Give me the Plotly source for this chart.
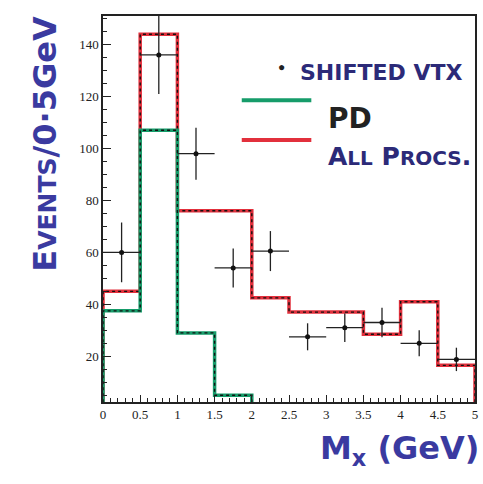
import plotly.graph_objects as go

# ---- data ----
bin_edges = [0, 0.5, 1.0, 1.5, 2.0, 2.5, 3.0, 3.5, 4.0, 4.5, 5.0]
all_procs = [45, 144, 76, 76, 42.5, 37, 37, 28.5, 41, 16.5]
pd_edges = [0, 0.5, 1.0, 1.5, 2.0]
pd_vals = [37.5, 107, 29, 5]
pts_x = [0.25, 0.75, 1.25, 1.75, 2.25, 2.75, 3.25, 3.75, 4.25, 4.75]
pts_y = [60, 136, 98, 54, 60.5, 27.5, 31, 33, 25, 18.8]
pts_err = [11.5, 15, 10, 7.5, 7.7, 5.2, 5.5, 5.7, 5, 4.5]
pts_xerr = [0.25] * 10
x_ticks = [0, 0.5, 1, 1.5, 2, 2.5, 3, 3.5, 4, 4.5, 5]
x_ticklabels = ["0", "0.5", "1", "1.5", "2", "2.5", "3", "3.5", "4", "4.5", "5"]
y_ticks = [20, 40, 60, 80, 100, 120, 140]


def step_xy(edges, vals):
    xs = [edges[0]] + list(edges) + [edges[-1]]
    ys = [0] + list(vals) + [vals[-1], 0]
    return xs, ys


RED = "#e2303c"
GREEN = "#169c6a"
INK = "#2c2a78"
HAND = "DejaVu Sans"

fig = go.Figure()

for edges, vals, col in [(bin_edges, all_procs, RED), (pd_edges, pd_vals, GREEN)]:
    xs, ys = step_xy(edges, vals)
    fig.add_trace(go.Scatter(x=xs, y=ys, mode="lines", line=dict(color=col, width=3.5, shape="hv"),
                             showlegend=False, hoverinfo="skip"))
    fig.add_trace(go.Scatter(x=xs, y=ys, mode="lines",
                             line=dict(color="#111111", width=1.4, shape="hv", dash="dot"),
                             showlegend=False, hoverinfo="skip"))

fig.add_trace(go.Scatter(
    x=pts_x, y=pts_y, mode="markers",
    marker=dict(color="#111111", size=5),
    error_y=dict(type="data", array=pts_err, color="#222222", thickness=1.3, width=0),
    error_x=dict(type="data", array=pts_xerr, color="#222222", thickness=1.3, width=0),
    showlegend=False, cliponaxis=True,
))

fig.update_layout(
    width=483, height=484,
    margin=dict(l=103, r=5, t=16, b=82),
    paper_bgcolor="white", plot_bgcolor="white",
    font=dict(family="Liberation Serif", size=13, color="#222222"),
    xaxis=dict(range=[0, 5], tickvals=x_ticks, ticktext=x_ticklabels,
               ticks="inside", ticklen=7, tickcolor="#222", tickwidth=1.3,
               minor=dict(ticks="inside", ticklen=4, dtick=0.1, tickcolor="#222", tickwidth=1),
               showline=True, linecolor="#222", linewidth=1.5, mirror=True,
               showgrid=False, zeroline=False),
    yaxis=dict(range=[2.4, 151], tickvals=y_ticks,
               ticks="inside", ticklen=8, tickcolor="#222", tickwidth=1.3,
               minor=dict(ticks="inside", ticklen=4, dtick=5, tickcolor="#222", tickwidth=1),
               showline=True, linecolor="#222", linewidth=1.5, mirror=True,
               showgrid=False, zeroline=False),
)

# legend (hand-drawn style)
fig.add_shape(type="line", xref="paper", yref="paper", x0=0.373, x1=0.56, y0=0.782, y1=0.782,
              line=dict(color=GREEN, width=4))
fig.add_shape(type="line", xref="paper", yref="paper", x0=0.373, x1=0.56, y0=0.679, y1=0.679,
              line=dict(color=RED, width=4))
fig.add_annotation(xref="paper", yref="paper", x=0.48, y=0.891, xanchor="center", text="●",
                   showarrow=False, font=dict(size=12, color="#222"))
fig.add_annotation(xref="paper", yref="paper", x=0.525, y=0.891, xanchor="left", text="<b>SHIFTED VTX</b>",
                   showarrow=False, font=dict(family=HAND, size=22, color=INK))
fig.add_annotation(xref="paper", yref="paper", x=0.6, y=0.782, xanchor="left", text="<b>PD</b>",
                   showarrow=False, font=dict(family=HAND, size=28, color="#222"))
fig.add_annotation(xref="paper", yref="paper", x=0.6, y=0.679, xanchor="left",
                   text="<b>A<span style='font-size:20px'>LL</span> P<span style='font-size:20px'>ROCS</span>.</b>",
                   showarrow=False, font=dict(family=HAND, size=25, color=INK))

# axis titles
fig.add_annotation(xref="paper", yref="paper", x=-0.155, y=0.67, xanchor="center", yanchor="middle",
                   textangle=-90,
                   text="<b>E<span style='font-size:25px'>VENTS</span>/0·5GeV</b>",
                   showarrow=False, font=dict(family=HAND, size=32, color="#3a3aa0"))
fig.add_annotation(xref="paper", yref="paper", x=0.797, y=-0.124, xanchor="center", yanchor="middle",
                   text="<b>M<sub>x</sub> (GeV)</b>",
                   showarrow=False, font=dict(family=HAND, size=32, color="#3a3aa0"))

fig.write_html("out.html", config={"displayModeBar": False},
               post_script="document.body.style.margin='0';")
